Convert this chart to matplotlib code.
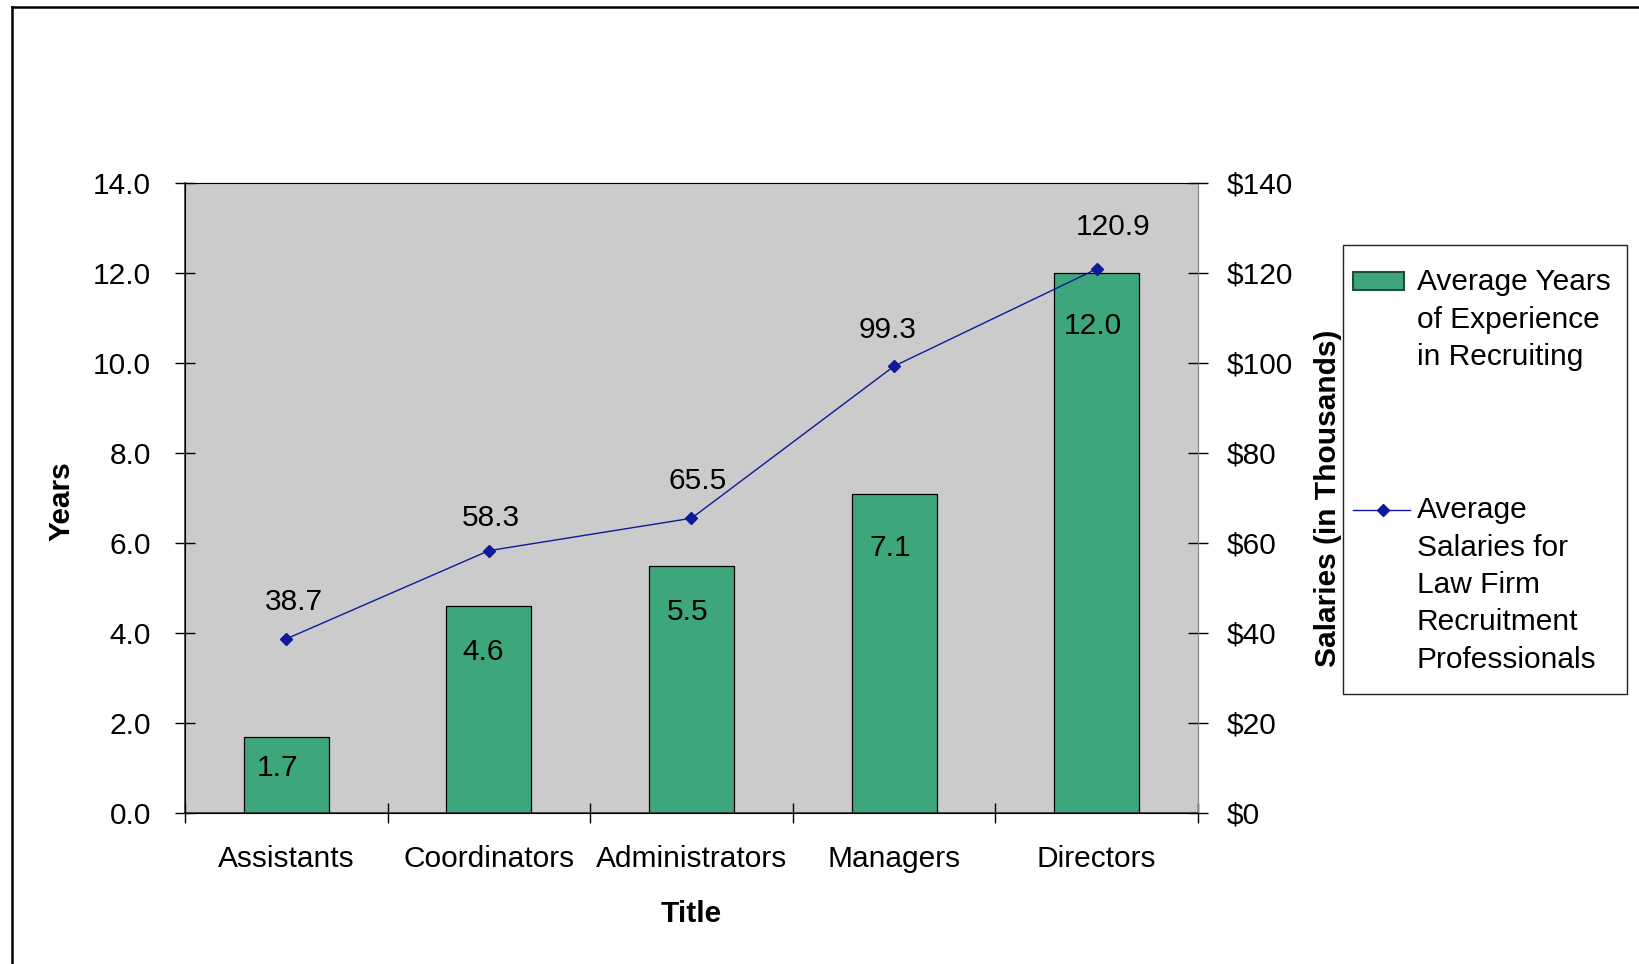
"""Bar and line combo: years of experience and salaries by title."""

import matplotlib.pyplot as plt
from matplotlib.lines import Line2D
from matplotlib.patches import Rectangle
from matplotlib.ticker import FuncFormatter, MultipleLocator

titles = ["Assistants", "Coordinators", "Administrators", "Managers", "Directors"]
years_experience = [1.7, 4.6, 5.5, 7.1, 12.0]
salaries_thousands = [38.7, 58.3, 65.5, 99.3, 120.9]
legend_labels = [
    "Average Years\nof Experience\nin Recruiting",
    "Average\nSalaries for\nLaw Firm\nRecruitment\nProfessionals",
]

# hand-tuned label offsets in pixels (dx, dy)
bar_label_offsets = [(-9, -31), (-6, -46), (-4, -46), (-4, -55), (-4, -53)]
line_label_offsets = [(8, 37), (2, 33), (6, 37), (-6, 36), (16, 42)]

BAR_COLOR = "#3da67a"
LINE_COLOR = "#0b1b99"
PLOT_BG = "#cbcbcb"
FONT_SIZE = 21.5

plt.rcParams["font.family"] = ["Liberation Sans", "DejaVu Sans"]
plt.rcParams["font.size"] = FONT_SIZE

W, H = 1640, 964
fig = plt.figure(figsize=(W / 100, H / 100), dpi=100)


def fx(px):
    return px / W


def fy(py):
    return 1 - py / H


ax = fig.add_axes([fx(185), fy(813), fx(1198) - fx(185), fy(183) - fy(813)])
ax.set_facecolor(PLOT_BG)
positions = range(len(titles))
ax.bar(positions, years_experience, width=0.42, color=BAR_COLOR,
       edgecolor="black", linewidth=0.9, zorder=2)
for i, (value, offset) in enumerate(zip(years_experience, bar_label_offsets)):
    ax.annotate(f"{value:.1f}", (i, value), xytext=offset,
                textcoords="offset pixels", ha="center", va="center")

ax.set_xlim(-0.5, len(titles) - 0.5)
ax.set_ylim(0, 14)
ax.yaxis.set_major_locator(MultipleLocator(2))
ax.yaxis.set_major_formatter(FuncFormatter(lambda v, _: f"{v:.1f}"))
ax.set_xticks(list(positions))
ax.set_xticklabels(titles)
ax.set_xticks([i - 0.5 for i in range(len(titles) + 1)], minor=True)
ax.tick_params(axis="x", which="major", length=0, pad=23)
ax.tick_params(axis="x", which="minor", direction="inout", length=14, width=1)
ax.tick_params(axis="y", direction="inout", length=15, width=1, pad=17)
for side in ("left", "bottom"):
    ax.spines[side].set_color("#333333")
    ax.spines[side].set_linewidth(1.2)
for side in ("top", "right"):
    ax.spines[side].set_color("#888888")

ax.set_xlabel("Title", fontweight="bold", va="center")
ax.xaxis.set_label_coords(0.5, (813 - 914) / 630)
ax.set_ylabel("Years", fontweight="bold", va="center")
ax.yaxis.set_label_coords((61 - 185) / 1013, 0.495)

# salaries share the x axis, dollar scale on the right
ax2 = ax.twinx()
ax2.plot(positions, salaries_thousands, color=LINE_COLOR, linewidth=1.0,
         marker="D", markersize=6, markeredgecolor=LINE_COLOR, zorder=3)
for i, (value, offset) in enumerate(zip(salaries_thousands, line_label_offsets)):
    ax2.annotate(f"{value:.1f}", (i, value), xytext=offset,
                 textcoords="offset pixels", ha="center", va="center")
ax2.set_ylim(0, 140)
ax2.yaxis.set_major_locator(MultipleLocator(20))
ax2.yaxis.set_major_formatter(FuncFormatter(lambda v, _: f"${v:.0f}"))
ax2.tick_params(axis="y", direction="inout", length=15, width=1, pad=13)
ax2.spines["right"].set_color("#888888")
ax2.set_ylabel("Salaries (in Thousands)", fontweight="bold", va="center")
ax2.yaxis.set_label_coords((1328 - 185) / 1013, 0.5)

# legend drawn by hand so handles sit on the first line of each label
fig.add_artist(Rectangle((fx(1343), fy(694)), fx(1627) - fx(1343),
                         fy(245) - fy(694), transform=fig.transFigure,
                         facecolor="white", edgecolor="#222222", linewidth=1))
fig.add_artist(Rectangle((fx(1353), fy(290)), fx(1404) - fx(1353),
                         fy(272) - fy(290), transform=fig.transFigure,
                         facecolor=BAR_COLOR, edgecolor="#1f4f3a", linewidth=1.5))
fig.add_artist(Line2D([fx(1353), fx(1410)], [fy(510), fy(510)],
                      transform=fig.transFigure, color=LINE_COLOR, linewidth=1.0))
fig.add_artist(Line2D([fx(1383)], [fy(510)], transform=fig.transFigure,
                      color=LINE_COLOR, marker="D", markersize=6))
line_step = 37.5
for label, baseline in zip(legend_labels, (290, 518)):
    for k, line in enumerate(label.split("\n")):
        fig.text(fx(1417), fy(baseline + k * line_step), line,
                 ha="left", va="baseline")

# chart frame
fig.add_artist(Line2D([fx(12), fx(12)], [0, fy(7)], transform=fig.transFigure,
                      color="black", linewidth=1.8))
fig.add_artist(Line2D([fx(12), 1], [fy(7), fy(7)], transform=fig.transFigure,
                      color="black", linewidth=1.8))

fig.savefig("out.png", dpi=100)
